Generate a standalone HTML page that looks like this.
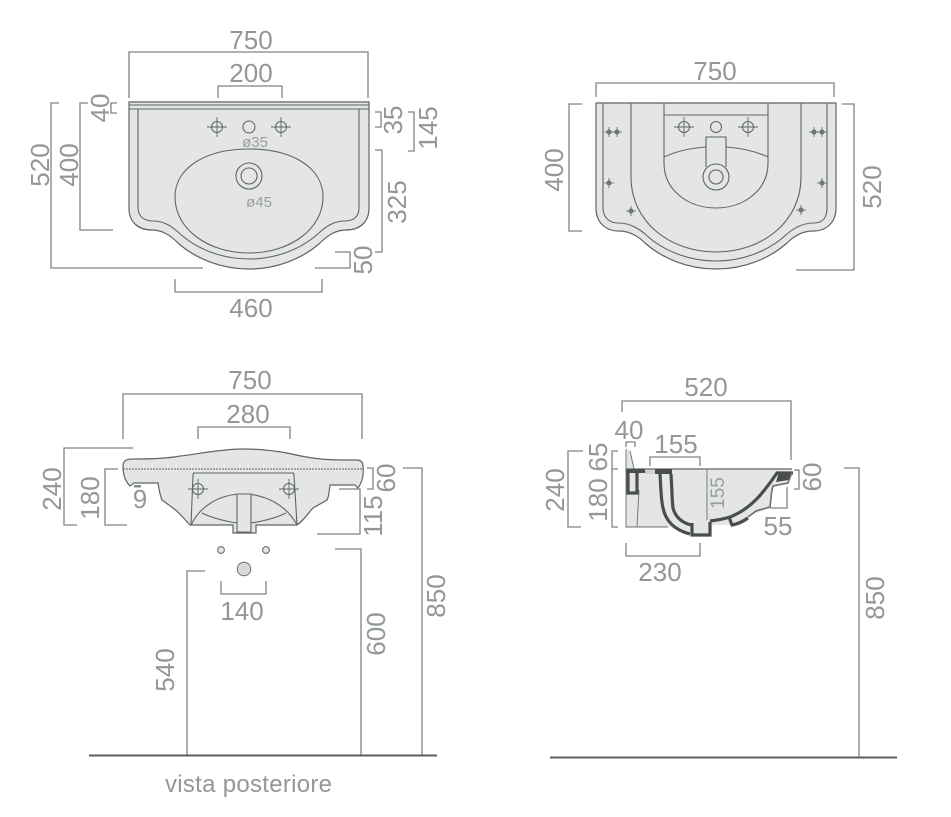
<!DOCTYPE html>
<html><head><meta charset="utf-8"><style>
html,body{margin:0;padding:0;background:#fff}
svg{display:block}
text{font-family:"Liberation Sans",sans-serif;font-size:26px;fill:#92979a;text-anchor:middle}
.d{fill:none;stroke:#7f8385;stroke-width:1.3}
.o{fill:none;stroke:#5f6466;stroke-width:1.1}
.b{fill:#e4e6e5;stroke:#5f6466;stroke-width:1.2}
.s{fill:none;stroke:#4a4d4f;stroke-width:3.2}
.t{fill:none;stroke:#6a6e70;stroke-width:.9}
</style></head><body>
<svg width="951" height="817" viewBox="0 0 951 817" xmlns="http://www.w3.org/2000/svg">
<defs>
<g id="sc"><circle r="2.2" fill="#8a8d8f" stroke="#5f6466" stroke-width=".7"/><path d="M-5 0H5M0-5V5" stroke="#5f6466" stroke-width=".8"/></g>
<g id="h"><circle r="5.5" fill="none" stroke="#5f6466" stroke-width="1"/><path d="M-10 0H10M0-10V10" stroke="#5f6466" stroke-width=".9"/></g>
</defs>

<!-- top-left -->
<path class="b" d="M129 102H369V208C369 222 360 230 346 230C336 230 328 235 320 243C302 259 276 269 249 269C222 269 196 259 178 243C170 235 162 230 152 230C138 230 129 222 129 208Z"/>
<path class="o" d="M129 105H369M129 109H369"/>
<path class="o" d="M138 109V208C138 216 144 221 153 221C163 221 170 225 178 232C196 249 222 259 249 259C276 259 302 249 320 232C328 225 335 221 345 221C354 221 359 216 359 208V109"/>
<path class="o" d="M175 197C175 168 205 149 249 149C293 149 323 168 323 197C323 229 290 253 249 253C208 253 175 229 175 197Z"/>
<circle class="o" cx="249" cy="176" r="13"/><circle class="o" cx="249" cy="176" r="8"/>
<use href="#h" x="217" y="127"/><use href="#h" x="281" y="127"/>
<circle class="o" cx="249" cy="127" r="6"/>
<text x="255" y="147" style="font-size:15px;fill:#9a9ea0">ø35</text>
<text x="259" y="207" style="font-size:15px;fill:#9a9ea0">ø45</text>
<path class="d" d="M129 98V52H368V98M218 98V86H282V98M175 279V292H322V279M59 103H51V268H203M88 103H80V230H113M117 103H111V113H117M375 112H381V127H375M408 112H414V151H408M375 150H382V252H375M335 252H350V268H315"/>
<text x="251" y="49">750</text><text x="251" y="82">200</text><text x="251" y="317">460</text>
<text transform="translate(49 165) rotate(-90)">520</text>
<text transform="translate(78 165) rotate(-90)">400</text>
<text transform="translate(109 108) rotate(-90)">40</text>
<text transform="translate(402 120) rotate(-90)">35</text>
<text transform="translate(437 128) rotate(-90)">145</text>
<text transform="translate(406 202) rotate(-90)">325</text>
<text transform="translate(372 260) rotate(-90)">50</text>

<!-- top-right -->
<path class="b" d="M596 103H836V208C836 222 827 231 813 231C803 231 795 235 787 243C769 259 743 269 716 269C689 269 663 259 645 243C637 235 629 231 619 231C605 231 596 222 596 208Z"/>
<path class="o" d="M603 103V208C603 217 609 223 618 223C628 223 637 227 645 234C663 251 689 261 716 261C743 261 769 251 787 234C795 227 804 223 814 223C823 223 827 217 827 208V103"/>
<path class="o" d="M631 103V177C631 222 670 252 716 252C762 252 801 222 801 177V103"/>
<path class="o" d="M664 103V163C664 190 688 208 716 208C744 208 768 190 768 163V103M664 115H768M664 157C677 151 691 148 706 147M726 147C741 148 755 151 768 157"/>
<path class="o" d="M706 167V137H726V167"/>
<circle cx="716" cy="177" r="13" fill="#e4e6e5" stroke="#5f6466" stroke-width="1.1"/><circle class="o" cx="716" cy="177" r="7"/>
<use href="#h" x="684" y="127"/><use href="#h" x="748" y="127"/><circle class="o" cx="716" cy="127" r="5.5"/>
<use href="#sc" x="609" y="132"/><use href="#sc" x="617" y="132"/><use href="#sc" x="609" y="183"/><use href="#sc" x="631" y="211"/>
<use href="#sc" x="814" y="132"/><use href="#sc" x="822" y="132"/><use href="#sc" x="822" y="183"/><use href="#sc" x="801" y="210"/>
<path class="d" d="M596 97V83H834V97M582 104H569V231H582M842 104H854V270H796"/>
<text x="715" y="80">750</text>
<text transform="translate(563 170) rotate(-90)">400</text>
<text transform="translate(881 187) rotate(-90)">520</text>

<!-- bottom-left -->
<path class="b" d="M123 466C123 461 126 459 133 459C155 459 170 458 180 456C192 455 220 449 243 449C262 449 276 451 287 453C296 455 305 457 313 458C325 460 340 460 356 460C361 460 363 462 363 466C364 476 362 482 358 488L355 485H330C329 492 329 497 327 500L313 508C306 516 302 522 297 525H256V533H233V525H190C185 520 180 513 173 508L162 500C160 495 159 490 158 483H134L130 486C125 481 123 474 123 466Z"/>
<path class="o" stroke-dasharray="2 1" d="M123 469H364M193 473H294"/>
<path class="o" d="M191 525L193 475Q193 473 195 473H292Q294 473 294 475L297 525"/>
<path class="o" d="M191 525C200 506 220 494 243 494C266 494 287 506 297 525M202 513C212 518 224 521 237 523M286 513C276 518 264 521 251 523"/>
<path d="M237 494H251V532H237Z" fill="#e4e6e5" stroke="#5f6466" stroke-width="1.1"/>
<use href="#h" x="198" y="489"/><use href="#h" x="289" y="489"/>
<circle cx="221" cy="550" r="3.4" fill="#e4e6e5" stroke="#5f6466"/><circle cx="266" cy="550" r="3.4" fill="#e4e6e5" stroke="#5f6466"/>
<circle cx="244" cy="569" r="6.800" fill="#d6d9d8" stroke="#6a6e70"/>
<rect x="134" y="485" width="7" height="2.5" fill="#858a8d"/>
<path class="d" d="M123 439V394H362V439M198 439V427H290V439M133 448H64V525H77M118 469H105V525H127M367 468H373V489H367M339 489H360V534H317M403 468H422V755M335 549H361V755M205 571H187V755M221 581V594H266V581"/>
<path d="M89 755.500H437" stroke="#5a5d5f" stroke-width="2"/>
<text x="250" y="389">750</text><text x="248" y="423">280</text><text x="140" y="508">9</text><text x="242" y="620">140</text>
<text transform="translate(61 489) rotate(-90)">240</text>
<text transform="translate(99 498) rotate(-90)">180</text>
<text transform="translate(395 478) rotate(-90)">60</text>
<text transform="translate(382 516) rotate(-90)">115</text>
<text transform="translate(445 596) rotate(-90)">850</text>
<text transform="translate(385 634) rotate(-90)">600</text>
<text transform="translate(174 670) rotate(-90)">540</text>
<text x="248.500" y="792" textLength="167" style="font-size:24px">vista posteriore</text>

<!-- bottom-right -->
<path d="M626 527V449Q629 449 630 451L634 469H792L788 483L773 486L770 507L748 517L732 525H710V536H693L680 531Q672 527 668 527Z" fill="#e4e6e5"/>
<path class="t" d="M626 449V527H668M630 451L634 469M637 527L639 490M707 469V520"/>
<path d="M626 469H792" stroke="#7a7e80" stroke-width="1.6"/>
<path d="M626 469H645V473H626ZM655 469H672V474H655Z" fill="#4a4d4f"/>
<rect x="645" y="470" width="10" height="4" fill="#cfd2d1"/>
<path class="s" d="M628 472V493H637V472"/>
<path class="s" d="M660 474C661 490 661 500 663 508C666 522 675 530 690 534"/>
<path class="s" d="M671 474C672 490 672 500 673 508C675 516 680 522 691 525"/>
<path class="s" d="M692 523V535H710V522"/>
<path class="s" d="M710 521C718 520 724 519 730 517C753 508 765 490 777 473H793"/>
<path class="s" d="M729 517L732 525C738 524 742 522 748 518"/>
<path d="M779 472H792L789 480L776 482Z" fill="#4a4d4f"/>
<path class="t" style="stroke-width:1.6" d="M792 472L788 483L773 486C771 492 771 500 770 507L756 511L748 517"/>
<path class="d" d="M622 412V401H791V460M626 447V442H635V447M650 466V457H700V466M583 451H568V527H581M618 451H612V527H618M612 469H618M794 470H799V489H794M770 508H787V487M626 543V556H700V543M844 468H859V757"/>
<path d="M550 757.500H897" stroke="#5a5d5f" stroke-width="2"/>
<text x="706" y="396">520</text><text x="629" y="439">40</text><text x="676" y="453">155</text><text x="778" y="535">55</text><text x="660" y="581">230</text>
<text transform="translate(564 490) rotate(-90)">240</text>
<text transform="translate(607 457) rotate(-90)">65</text>
<text transform="translate(607 500) rotate(-90)">180</text>
<text transform="translate(724 493) rotate(-90)" style="font-size:19px;fill:#9a9ea0">155</text>
<text transform="translate(821 477) rotate(-90)">60</text>
<text transform="translate(884 598) rotate(-90)">850</text>
</svg>
</body></html>
